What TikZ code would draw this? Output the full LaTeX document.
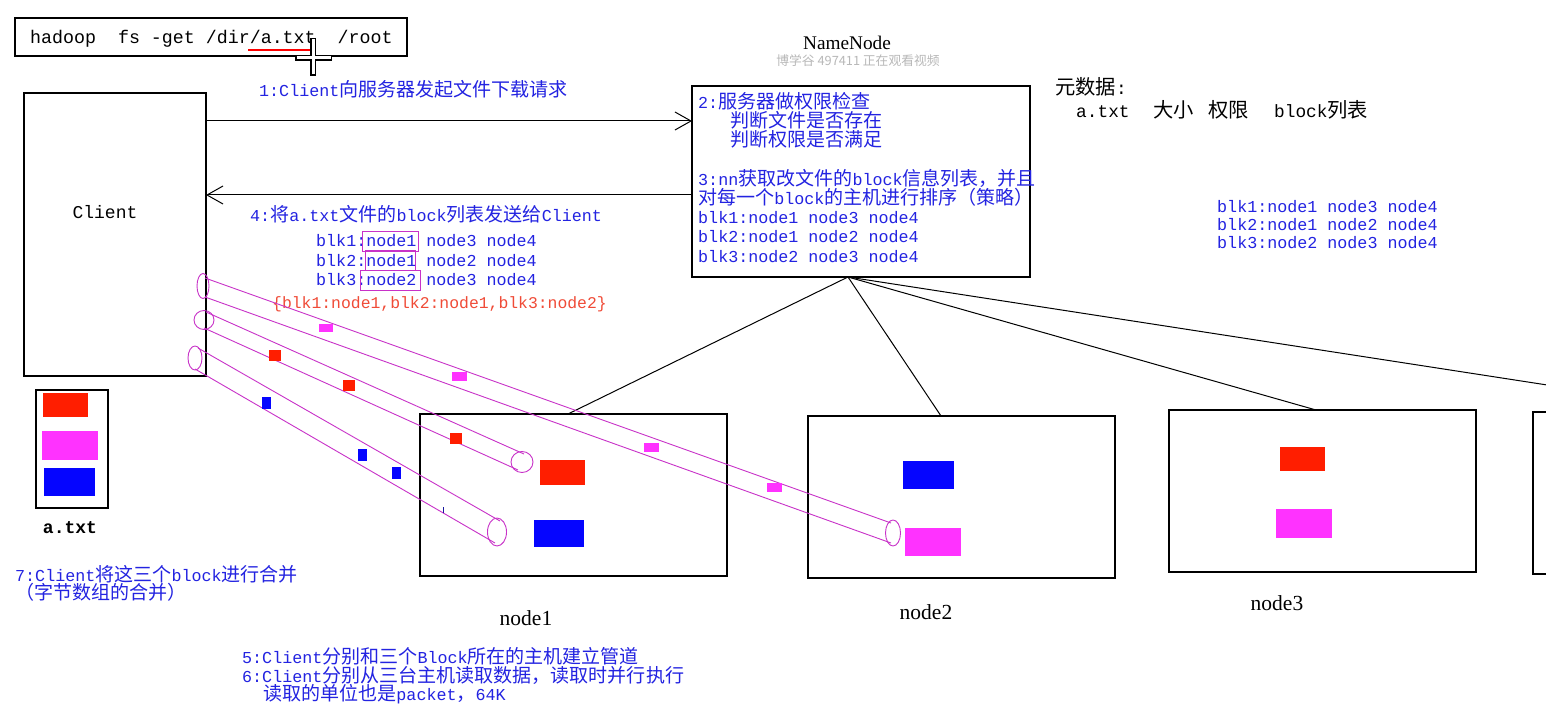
\documentclass[tikz,border=0pt]{standalone}
\usepackage{fontspec}
\setmainfont{Liberation Serif}
\newfontfamily\monof{Liberation Mono}
\newfontfamily\cjkf[Scale=1.14]{Noto Sans CJK SC}
\newcommand\zh[1]{{\cjkf #1}}
\usetikzlibrary{arrows.meta,calc}
\definecolor{txtblue}{RGB}{35,35,225}
\definecolor{pipec}{RGB}{200,50,200}
\definecolor{blkred}{RGB}{255,30,0}
\definecolor{blkmag}{RGB}{255,50,255}
\definecolor{blkblue}{RGB}{5,5,255}
\definecolor{redtxt}{RGB}{240,75,55}
\begin{document}
\begin{tikzpicture}[x=1pt,y=-1pt,
  box/.style={draw=black,line width=1.3pt,inner sep=0pt,outer sep=0pt,anchor=north west},
  btxt/.style={text=txtblue,inner sep=0pt,anchor=base west,font=\monof\fontsize{16.7}{19}\selectfont},
  rtxt/.style={text=redtxt,inner sep=0pt,anchor=base west,font=\monof\fontsize{16.4}{19}\selectfont},
  ktxt/.style={text=black,inner sep=0pt,anchor=base west,font=\monof\fontsize{17.8}{22}\selectfont},
  serlbl/.style={text=black,inner sep=0pt,anchor=base,font=\fontsize{21.5}{24}\selectfont},
  conn/.style={draw=black,line width=1pt},
  arrowed/.style={-{Straight Barb[length=16pt,width=18pt,line width=1pt]}},
  pipe/.style={draw=pipec,line width=0.9pt},
  hl/.style={draw=pipec,line width=0.9pt}
]
\fill[white] (0,0) rectangle (1546,719);
\useasboundingbox (0,0) rectangle (1546,719);

% command
\node[box,minimum width=392,minimum height=38] (cmd) at (15,18) {};
\node[ktxt,font=\monof\fontsize{18.3}{22}\selectfont] (cmdtxt) at (30,44) {hadoop\ \ fs -get /dir/a.txt\ \ /root};
\draw[red,line width=2.5pt] (248,50) -- (311,50);
% cursor
\draw[black,line width=6pt] (313,38) -- (313,76) (295,58) -- (332,58);
\draw[white,line width=3pt] (313,39.5) -- (313,74.5) (296.5,58) -- (330.5,58);

% NameNode
\node[text=black,inner sep=0pt,anchor=base,font=\fontsize{19.3}{22}\selectfont] (nntitle) at (847,50) {NameNode};
\node[text=black!28,inner sep=0pt,anchor=base,font=\cjkf\fontsize{11.2}{13}\selectfont] (wm) at (858,66) {博学谷 497411 正在观看视频};
\node[box,minimum width=338,minimum height=191] (nn) at (692,86) {};
\node[btxt] (n2a) at (698,109) {2:\zh{服务器做权限检查}};
\node[btxt] (n2b) at (730,128) {\zh{判断文件是否存在}};
\node[btxt] (n2c) at (730,147) {\zh{判断权限是否满足}};
\node[btxt] (n3a) at (698,186) {3:nn\zh{获取改文件的}block\zh{信息列表，并且}};
\node[btxt] (n3b) at (698,205) {\zh{对每一个}block\zh{的主机进行排序（策略）}};
\node[btxt] (n3c) at (698,224) {blk1:node1 node3 node4};
\node[btxt] (n3d) at (698,243) {blk2:node1 node2 node4};
\node[btxt] (n3e) at (698,262) {blk3:node2 node3 node4};

% metadata
\node[ktxt] (meta1) at (1055,95) {\zh{元数据}:};
\node[ktxt] (meta2) at (1076,118) {a.txt\hspace{23.6pt}\zh{大小}\hspace{14.4pt}\zh{权限}\hspace{25.4pt}block\zh{列表}};
\node[btxt] (r1) at (1217,213) {blk1:node1 node3 node4};
\node[btxt] (r2) at (1217,231) {blk2:node1 node2 node4};
\node[btxt] (r3) at (1217,249) {blk3:node2 node3 node4};

% client
\node[box,minimum width=182,minimum height=283] (cl) at (24,93) {};
\node[ktxt,anchor=base,font=\monof\fontsize{18}{22}\selectfont] (cltxt) at (105,219) {Client};

% request / response arrows
\draw[conn,arrowed] ($(cl.north east)+(0,28)$) -- ($(nn.north west)+(0,35)$);
\draw[conn,arrowed] ($(nn.north west)+(0,109)$) -- ($(cl.north east)+(0,102)$);
\node[btxt] (s1) at (259,97) {1:Client\zh{向服务器发起文件下载请求}};
\node[btxt] (s4) at (250,222) {4:\zh{将}a.txt\zh{文件的}block\zh{列表发送给}Client};
\node[btxt] (b1) at (316,247) {blk1:node1 node3 node4};
\node[btxt] (b2) at (316,266) {blk2:node1 node2 node4};
\node[btxt] (b3) at (316,285) {blk3:node2 node3 node4};
\draw[hl] (362,231) rectangle (418,251);
\draw[hl] (365,250) rectangle (415,270);
\draw[hl] (360,270) rectangle (420,290);
\node[rtxt] (sel) at (272,308) {\{blk1:node1,blk2:node1,blk3:node2\}};

% file a.txt
\node[box,minimum width=72,minimum height=118] (file) at (36,390) {};
\fill[blkred] (43,393) rectangle (88,417);
\fill[blkmag] (42,431) rectangle (98,460);
\fill[blkblue] (44,468) rectangle (95,496);
\node[ktxt,anchor=base,font=\monof\bfseries\fontsize{18}{22}\selectfont] (filelbl) at (70,533) {a.txt};
\node[btxt] (s7a) at (15,581) {7:Client\zh{将这三个}block\zh{进行合并}};
\node[btxt] (s7b) at (15,599) {\zh{（字节数组的合并）}};

% data nodes
\node[box,minimum width=307,minimum height=162] (dn1) at (420,414) {};
\node[box,minimum width=307,minimum height=162] (dn2) at (808,416) {};
\node[box,minimum width=307,minimum height=162] (dn3) at (1169,410) {};
\node[box,minimum width=307,minimum height=162] (dn4) at (1533,412) {};
\node[serlbl] (l1) at (526,625) {node1};
\node[serlbl] (l2) at (926,619) {node2};
\node[serlbl] (l3) at (1277,610) {node3};
\fill[blkred] (540,460) rectangle (585,485);
\fill[blkblue] (534,520) rectangle (584,547);
\fill[blkblue] (903,461) rectangle (954,489);
\fill[blkmag] (905,528) rectangle (961,556);
\fill[blkred] (1280,447) rectangle (1325,471);
\fill[blkmag] (1276,509) rectangle (1332,538);

% namenode to datanodes
\coordinate (nnb) at ($(nn.south west)+(156,0)$);
\draw[conn] (nnb) -- ($(dn1.north west)+(148,0)$);
\draw[conn] (nnb) -- ($(dn2.north west)+(133,0)$);
\draw[conn] (nnb) -- ($(dn3.north west)+(147,0)$);
\draw[conn] (nnb) -- ($(dn4.north west)+(189,0)$);

% pipe 1 (to node2)
\draw[pipe] (203,286) ellipse [x radius=6,y radius=12.5];
\draw[pipe] (893,533) ellipse [x radius=7.5,y radius=13];
\draw[pipe] (205,278) -- (891,523);
\draw[pipe] (205,297) -- (891,543);
\fill[blkmag] (319,324) rectangle (333,332);
\fill[blkmag] (452,372) rectangle (467,381);
\fill[blkmag] (644,443) rectangle (659,452);
\fill[blkmag] (767,483) rectangle (782,492);
% pipe 2 (to node1, red)
\draw[pipe] (204,320) ellipse [x radius=10,y radius=9.5];
\draw[pipe] (522,462) ellipse [x radius=11,y radius=10.5];
\draw[pipe] (206,312) -- (524,454);
\draw[pipe] (204,328) -- (518,470);
\fill[blkred] (269,350) rectangle (281,361);
\fill[blkred] (343,380) rectangle (355,391);
\fill[blkred] (450,433) rectangle (462,444);
% pipe 3 (to node1, blue)
\draw[pipe] (195,358) ellipse [x radius=7,y radius=12];
\draw[pipe] (497,532) ellipse [x radius=9.5,y radius=14];
\draw[pipe] (198,348) -- (500,521);
\draw[pipe] (195,369) -- (495,543);
\fill[blkblue] (262,397) rectangle (271,409);
\fill[blkblue] (358,449) rectangle (367,461);
\fill[blkblue] (392,467) rectangle (401,479);
\draw[txtblue!70!black,line width=0.8pt] (443,507) -- (443,513);

% bottom notes
\node[btxt] (s5) at (242,663) {5:Client\zh{分别和三个}Block\zh{所在的主机建立管道}};
\node[btxt] (s6) at (242,682) {6:Client\zh{分别从三台主机读取数据，读取时并行执行}};
\node[btxt] (s6b) at (263,700) {\zh{读取的单位也是}packet\zh{，}64K};
\end{tikzpicture}
\end{document}
